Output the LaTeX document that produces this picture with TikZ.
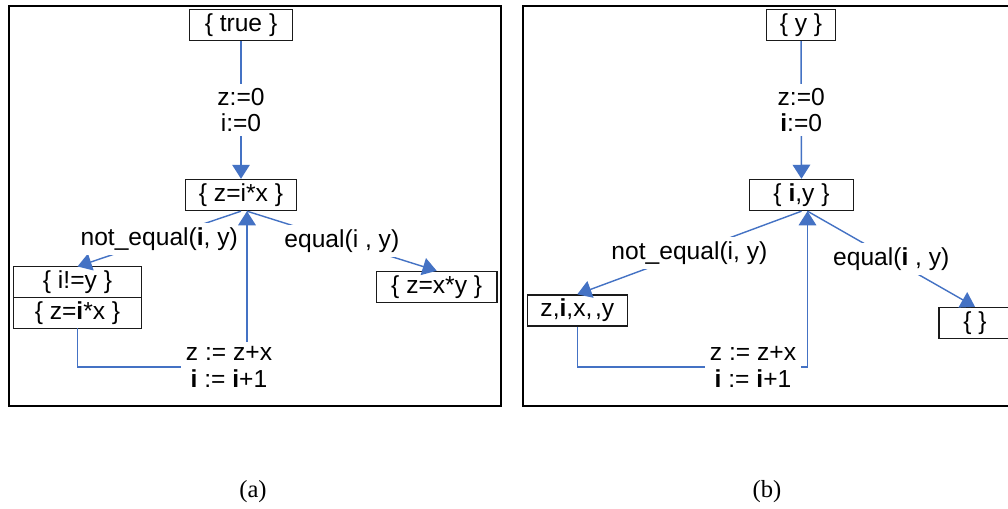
\documentclass[tikz,border=0pt]{standalone}
\usepackage{fontspec}
\setmainfont{Liberation Sans}
\newfontfamily\capfont{Liberation Serif}
\usetikzlibrary{arrows.meta,positioning,calc}
\definecolor{cfgInk}{HTML}{1A1A1A}
\definecolor{cfgBlue}{HTML}{4472C4}
\newcommand{\cfgfont}{\fontsize{14}{15}\selectfont}
\tikzset{
  cfgState/.style={draw=cfgInk,line width=0.8pt,fill=white,minimum height=0.62cm,
                   inner sep=2pt,font=\cfgfont,text=black},
  cfgLabel/.style={fill=white,align=center,inner sep=2.5pt,font=\cfgfont,text=black},
  cfgEdge/.style={draw=cfgBlue,line width=0.8pt},
  cfgFrame/.style={draw=black,line width=1.1pt}
}

\begin{document}
\begin{tikzpicture}[x=0.02cm,y=-0.02cm,
  >={Triangle[length=8pt,width=10pt]}]
\clip (0,0) rectangle (1008,508);
\fill[white] (0,0) rectangle (1008,508);
% (a) multiplication loop
\draw[cfgFrame] (9,6) rectangle (501,406);
\node[cfgState,minimum width=2.06cm] (truea) at (241,25) {\{ true \}};
\node[cfgState,minimum width=2.21cm] (inva) at (241,195) {\{ z=i*x \}};
\node[cfgState,minimum width=2.56cm,outer sep=0pt] (nea) at (77.5,282) {\{ i!=y \}};
\node[cfgState,minimum width=2.56cm,outer sep=0pt,below=0pt of nea] (bodya) {\{ z=\textbf{i}*x \}};
\node[cfgState,minimum width=2.42cm] (exita) at (436.7,287) {\{ z=x*y \}};
\node[cfgLabel] (upda) at (229,367) {z := z+x\\\textbf{i} := \textbf{i}+1};
\coordinate (ina) at ([xshift=0.12cm]inva.south);
\draw[cfgEdge,->] (truea) -- node[cfgLabel]{z:=0\\i:=0} (inva);
\draw[cfgEdge,->] (inva.south) -- node[cfgLabel]{not\_equal(\textbf{i}, y)} (nea.north);
\draw[cfgEdge,->] (ina) -- node[cfgLabel]{equal(i , y)} (exita.north);
\draw[cfgEdge] (bodya.south) |- (upda.west);
\draw[cfgEdge,->] (upda.north -| ina) -- (ina);
% (b) live variables
\draw[cfgFrame] (1030,6) -| (523,406) -- (1030,406);
\node[cfgState,minimum width=1.38cm] (topb) at (801,25) {\{ y \}};
\node[cfgState,minimum width=2.08cm] (invb) at (801.5,195) {\{ \textbf{i},y \}};
\node[cfgState,minimum width=2.0cm] (neb) at (577.3,310.5) {z,\textbf{i},x,\kern1.5pt,y};
\node[cfgState,minimum width=1.44cm] (exitb) at (975,323) {\{ \}};
\node[cfgLabel] (updb) at (753,367) {z := z+x\\\textbf{i} := \textbf{i}+1};
\coordinate (inb) at ([xshift=0.12cm]invb.south);
\draw[cfgEdge,->] (topb) -- node[cfgLabel]{z:=0\\\textbf{i}:=0} (invb);
\draw[cfgEdge,->] (invb.south) -- node[cfgLabel]{not\_equal(i, y)} (neb.north);
\draw[cfgEdge,->] (inb) -- node[cfgLabel]{equal(\textbf{i} , y)} (exitb.north);
\draw[cfgEdge] (neb.south) |- (updb.west);
\draw[cfgEdge,->] (updb.east) -| (inb);
% captions
\node[font=\capfont\fontsize{14}{15}\selectfont] (capa) at (253,492) {(a)};
\node[font=\capfont\fontsize{14}{15}\selectfont] (capb) at (767,492) {(b)};
\end{tikzpicture}
\end{document}
